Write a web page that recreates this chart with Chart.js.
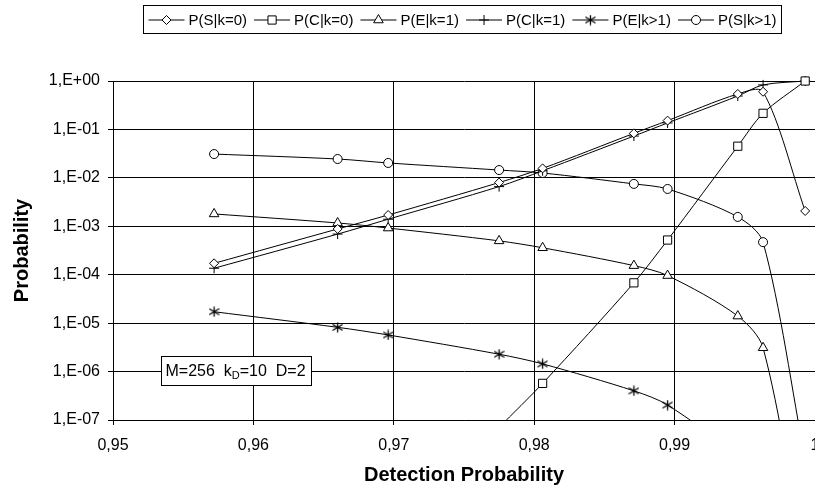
<!DOCTYPE html>
<html>
<head>
<meta charset="utf-8">
<script src="https://cdn.jsdelivr.net/npm/chart.js@4.4.1/dist/chart.umd.min.js"></script>
<style>
html, body { margin: 0; padding: 0; background: #fff; overflow: hidden; }
#wrap { width: 825px; height: 491px; position: relative; }
</style>
</head>
<body>
<div id="wrap"><canvas id="chart"></canvas></div>
<script>
// detection probability (x) for every operating point
const detProb = [0.9572, 0.9660, 0.9696, 0.9775, 0.9806, 0.9871, 0.9895, 0.9945, 0.9963, 0.9993];

// series (values below 1e-7 are off the chart, estimated from the line direction)
const pS_k0  = [1.72e-4, 8.8e-4, 1.71e-3, 8.0e-3, 1.57e-2, 8.3e-2, 1.52e-1, 5.4e-1, 6.0e-1, 2.07e-3];
const pC_k0  = [null, null, 3e-10, 7e-8, 5.7e-7, 6.8e-5, 5.2e-4, 4.5e-2, 2.15e-1, 1.0];
const pE_k1  = [1.8e-3, 1.17e-3, 9.2e-4, 5.0e-4, 3.6e-4, 1.54e-4, 9.6e-5, 1.4e-5, 3.1e-6, 1e-10];
const pC_k1  = [1.36e-4, 6.9e-4, 1.4e-3, 6.6e-3, 1.4e-2, 7.3e-2, 1.36e-1, 4.9e-1, 8.3e-1, 1.0];
const pE_kg1 = [1.72e-5, 8.2e-6, 5.7e-6, 2.28e-6, 1.44e-6, 4.0e-7, 2.04e-7, 1.8e-8, 5e-9, null];
const pS_kg1 = [3.1e-2, 2.45e-2, 2.03e-2, 1.45e-2, 1.26e-2, 7.5e-3, 5.9e-3, 1.56e-3, 4.7e-4, 1.5e-8];

const seriesNames = ['P(S|k=0)', 'P(C|k=0)', 'P(E|k=1)', 'P(C|k=1)', 'P(E|k>1)', 'P(S|k>1)'];
const xTicks = [0.95, 0.96, 0.97, 0.98, 0.99, 1.0];
const yTicks = [1e0, 1e-1, 1e-2, 1e-3, 1e-4, 1e-5, 1e-6, 1e-7];

const FONT = '"Liberation Sans", Arial, sans-serif';
Chart.defaults.font.family = FONT;
Chart.defaults.color = '#000';

// excel style asterisk marker
function makeStar(size) {
    const c = document.createElement('canvas');
    c.width = size; c.height = size;
    const g = c.getContext('2d');
    g.strokeStyle = '#000';
    g.lineWidth = 1.3;
    const m = size / 2, r = size / 2 - 0.5;
    g.beginPath();
    g.moveTo(m, m - r); g.lineTo(m, m + r);
    g.moveTo(m - r, m - r * 0.6); g.lineTo(m + r, m + r * 0.6);
    g.moveTo(m - r, m + r * 0.6); g.lineTo(m + r, m - r * 0.6);
    g.stroke();
    return c;
}
const starImg = makeStar(11);

const markers = [
    { style: 'rectRot', radius: 4.5 },
    { style: 'rect', radius: 5.8 },
    { style: 'triangle', radius: 5.5 },
    { style: 'cross', radius: 5 },
    { style: starImg, radius: 5 },
    { style: 'circle', radius: 4.5 }
];
const allSeries = [pS_k0, pC_k0, pE_k1, pC_k1, pE_kg1, pS_kg1];

function toPoints(vals) {
    return vals.map((v, i) => ({ x: detProb[i], y: v }));
}

const datasets = allSeries.map((vals, i) => ({
    label: seriesNames[i],
    data: toPoints(vals),
    borderColor: '#000',
    borderWidth: 1,
    backgroundColor: '#fff',
    pointStyle: markers[i].style,
    pointRadius: markers[i].radius,
    pointBorderColor: '#000',
    pointBackgroundColor: '#fff',
    pointBorderWidth: 1,
    tension: 0.3,
    spanGaps: false,
    clip: { left: 8, right: 12, top: 8, bottom: 0 }
}));

function fmtExp(v) {
    const e = Math.round(Math.log10(v));
    return '1,E' + (e < 0 ? '-' : '+') + String(Math.abs(e)).padStart(2, '0');
}
function fmtDec(v) {
    return String(Number(v.toFixed(2))).replace('.', ',');
}

const legendPlugin = {
    id: 'boxLegend',
    afterDraw(chart) {
        const ctx = chart.ctx;
        const box = { left: 143.5, top: 5.5, right: 781.5, bottom: 33.5 };
        ctx.save();
        ctx.strokeStyle = '#000';
        ctx.lineWidth = 1;
        ctx.fillStyle = '#fff';
        ctx.fillRect(box.left, box.top, box.right - box.left, box.bottom - box.top);
        ctx.strokeRect(box.left, box.top, box.right - box.left, box.bottom - box.top);

        ctx.font = '15px ' + FONT;
        const lineLen = 36, gapText = 4, pad = 5;
        const widths = seriesNames.map(n => ctx.measureText(n).width);
        const content = widths.reduce((a, w) => a + lineLen + gapText + w, 0);
        const spacing = (box.right - box.left - 2 * pad - content) / (seriesNames.length - 1);
        const cy = (box.top + box.bottom) / 2;
        let x = box.left + pad;
        seriesNames.forEach((name, i) => {
            ctx.beginPath();
            ctx.moveTo(x, cy + 0.5);
            ctx.lineTo(x + lineLen, cy + 0.5);
            ctx.stroke();
            ctx.fillStyle = '#fff';
            Chart.helpers.drawPoint(ctx, {
                pointStyle: markers[i].style,
                radius: markers[i].radius,
                borderWidth: 1,
                rotation: 0
            }, x + lineLen / 2, cy + 0.5);
            ctx.fillStyle = '#000';
            ctx.textBaseline = 'middle';
            ctx.textAlign = 'left';
            ctx.fillText(name, x + lineLen + gapText, cy + 1);
            x += lineLen + gapText + widths[i] + spacing;
        });

        // parameter box
        const nb = { left: 161.5, top: 356.5, right: 311.5, bottom: 385.5 };
        ctx.fillStyle = '#fff';
        ctx.fillRect(nb.left, nb.top, nb.right - nb.left, nb.bottom - nb.top);
        ctx.strokeRect(nb.left, nb.top, nb.right - nb.left, nb.bottom - nb.top);
        ctx.fillStyle = '#000';
        const ty = (nb.top + nb.bottom) / 2 + 1;
        let tx = nb.left + 4;
        ctx.font = '16px ' + FONT;
        const p1 = 'M=256  k';
        ctx.fillText(p1, tx, ty);
        tx += ctx.measureText(p1).width;
        ctx.font = '11px ' + FONT;
        ctx.fillText('D', tx, ty + 4);
        tx += ctx.measureText('D').width;
        ctx.font = '16px ' + FONT;
        ctx.fillText('=10  D=2', tx, ty);
        ctx.restore();
    }
};

new Chart(document.getElementById('chart'), {
    type: 'line',
    data: { datasets },
    options: {
        responsive: true,
        maintainAspectRatio: false,
        animation: false,
        layout: { padding: { top: 81, left: 0, right: 10, bottom: 0 } },
        plugins: { legend: { display: false }, tooltip: { enabled: false } },
        scales: {
            x: {
                type: 'linear',
                min: 0.95,
                max: 1.0,
                afterBuildTicks: s => { s.ticks = xTicks.map(v => ({ value: v })); },
                afterFit: s => { s.height = 71; s.paddingLeft = 0; s.paddingRight = 0; },
                ticks: { font: { size: 16 }, padding: 11, autoSkip: false, maxRotation: 0, callback: fmtDec },
                grid: { color: '#000', lineWidth: 1, tickLength: 5 },
                border: { color: '#000', width: 1 },
                title: { display: true, text: 'Detection Probability', font: { size: 20, weight: 'bold' }, padding: { top: 0, bottom: 4 } }
            },
            y: {
                type: 'logarithmic',
                min: 1e-7,
                max: 1,
                afterBuildTicks: s => { s.ticks = yTicks.map(v => ({ value: v })); },
                afterFit: s => { s.width = 113; },
                ticks: { font: { size: 16 }, padding: 8, autoSkip: false, callback: fmtExp },
                grid: { color: '#000', lineWidth: 1, tickLength: 5 },
                border: { color: '#000', width: 1 },
                title: { display: true, text: 'Probability', font: { size: 20, weight: 'bold' }, padding: { top: 10, bottom: 0 } }
            }
        }
    },
    plugins: [legendPlugin]
});
</script>
</body>
</html>
